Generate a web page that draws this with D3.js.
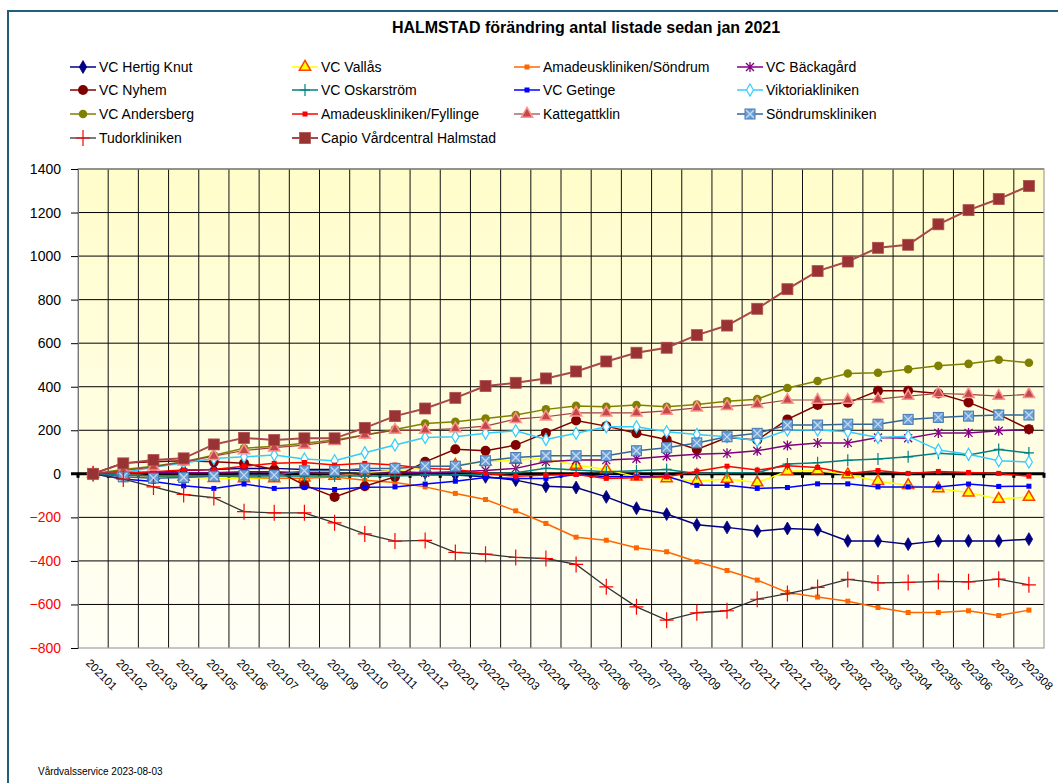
<!DOCTYPE html>
<html><head><meta charset="utf-8">
<script src="https://cdn.jsdelivr.net/npm/d3@7"></script>
<style>
body{margin:0;background:#fff}
svg{display:block}
text{font-family:"Liberation Sans",Arial,sans-serif}
</style>
</head><body>
<svg id="c" width="1058" height="783"></svg>
<script>
const categories = ["202101","202102","202103","202104","202105","202106","202107","202108","202109","202110","202111","202112",
"202201","202202","202203","202204","202205","202206","202207","202208","202209","202210","202211","202212",
"202301","202302","202303","202304","202305","202306","202307","202308"];
const yTicks = [-800,-600,-400,-200,0,200,400,600,800,1000,1200,1400];

const seriesNames = ["VC Hertig Knut","VC Vallås","Amadeuskliniken/Söndrum","VC Bäckagård",
"VC Nyhem","VC Oskarström","VC Getinge","Viktoriakliniken",
"VC Andersberg","Amadeuskliniken/Fyllinge","Kattegattklin","Söndrumskliniken",
"Tudorkliniken","Capio Vårdcentral Halmstad"];

const hertigKnut = [0,-5,5,15,20,25,25,20,20,15,10,5,-5,-14,-29,-57,-63,-106,-158,-185,-234,-246,-263,-251,-257,-308,-308,-323,-308,-308,-308,-300];
const vallas = [0,-5,-10,-15,-20,-21,-21,-18,-10,5,15,25,40,55,63,70,40,20,-14,-21,-34,-24,-40,12,15,-3,-34,-52,-67,-87,-116,-107];
const amadeusSondrum = [0,-5,-10,-8,-10,-15,-20,-20,-15,-30,-40,-60,-90,-118,-170,-228,-291,-305,-340,-358,-404,-444,-488,-545,-566,-585,-614,-637,-637,-629,-651,-626];
const backagard = [0,0,5,5,5,10,10,5,0,0,5,5,10,15,25,55,63,63,69,81,90,94,106,130,142,142,167,163,188,188,198,204];
const nyhem = [0,50,55,60,55,48,20,-52,-106,-57,-14,55,113,106,132,188,245,219,186,158,112,167,155,250,316,326,381,381,369,328,273,205];
const oskarstrom = [0,-5,-10,-10,-10,-10,-10,-10,-10,-10,-10,-5,-5,0,5,25,17,9,14,20,2,5,5,45,51,62,68,78,94,86,112,96];
const getinge = [0,-24,-35,-55,-67,-47,-67,-62,-72,-62,-60,-47,-34,-17,-21,-21,-3,-14,-14,-11,-53,-53,-67,-63,-46,-46,-60,-60,-60,-47,-58,-57];
const viktoria = [0,5,30,50,70,78,86,68,60,97,132,167,170,186,198,158,186,216,216,193,181,170,152,201,201,193,167,173,109,90,60,54];
const andersberg = [0,20,35,55,85,117,127,140,155,178,204,231,239,254,270,296,312,308,316,308,318,333,343,394,426,461,464,480,496,505,524,510];
const amadeusFyllinge = [0,5,10,17,20,35,48,52,40,48,40,25,20,2,-11,-6,-3,-21,-18,-14,12,35,17,37,29,2,15,2,11,6,2,-11];
const kattegatt = [0,15,32,55,81,107,120,132,150,178,201,201,208,219,251,262,280,280,280,289,303,310,319,339,339,339,343,357,369,365,357,365];
const sondrums = [0,-14,-20,-17,-11,-6,-6,14,14,25,25,35,35,60,75,83,83,83,106,120,142,170,186,224,224,228,228,250,259,265,270,270];
const tudor = [0,-24,-60,-95,-109,-174,-179,-179,-225,-276,-309,-306,-361,-369,-384,-389,-416,-519,-611,-672,-638,-629,-576,-550,-522,-485,-501,-499,-494,-496,-484,-510];
const capio = [0,48,63,71,135,165,155,163,163,211,265,300,349,403,418,438,470,516,556,579,637,681,758,848,931,975,1038,1052,1146,1211,1262,1322];

const seriesValues = [hertigKnut,vallas,amadeusSondrum,backagard,nyhem,oskarstrom,getinge,viktoria,andersberg,amadeusFyllinge,kattegatt,sondrums,tudor,capio];

const styles = [
  {line:"#000080", w:1.5, m:"diamond", fill:"#000080", stroke:"#000080"},
  {line:"#FFFF00", w:1.5, m:"triangle", fill:"#FFFF00", stroke:"#FF4000"},
  {line:"#FF6600", w:1.5, m:"smallsq", fill:"#FF6600", stroke:"#FF6600"},
  {line:"#800080", w:1.5, m:"asterisk", fill:"none", stroke:"#800080"},
  {line:"#800000", w:1.5, m:"circle", fill:"#800000", stroke:"#800000"},
  {line:"#008080", w:1.5, m:"plus", fill:"none", stroke:"#008080"},
  {line:"#0000FF", w:1.5, m:"smallsq", fill:"#0000FF", stroke:"#0000FF"},
  {line:"#33CCFF", w:1.5, m:"odiamond", fill:"#FFFFFF", stroke:"#33CCFF"},
  {line:"#808000", w:1.5, m:"circleS", fill:"#808000", stroke:"#808000"},
  {line:"#FF0000", w:1.5, m:"smallsq", fill:"#FF0000", stroke:"#FF0000"},
  {line:"#A0403F", w:1.2, m:"triangle", fill:"#C04848", stroke:"#FF9090"},
  {line:"#336699", w:1.5, m:"xsquare", fill:"#6A9ED6", stroke:"#4A7AB0"},
  {line:"#333333", w:1.3, m:"bigplus", fill:"none", stroke:"#FF0000"},
  {line:"#A84848", w:2, m:"bigsq", fill:"#993333", stroke:"#B05050"}
];

const svg = d3.select("#c");
const L = 78, R = 1044, T = 169, B = 648;

// outer frame
svg.append("rect").attr("x",8).attr("y",11).attr("width",1100).attr("height",800)
  .attr("fill","#fff").attr("stroke","#1F5F7A").attr("stroke-width",2);

// background gradient
const defs = svg.append("defs");
const grad = defs.append("linearGradient").attr("id","bg").attr("x1",0).attr("y1",0).attr("x2",0).attr("y2",1);
grad.append("stop").attr("offset","0%").attr("stop-color","#FFFDCA");
grad.append("stop").attr("offset","100%").attr("stop-color","#FFFFF6");

const x = d3.scaleBand().domain(categories).range([L,R]).padding(0);
const y = d3.scaleLinear().domain([-800,1400]).range([B,T]);
const cx = c => x(c) + x.bandwidth()/2;

svg.append("rect").attr("x",L).attr("y",T).attr("width",R-L).attr("height",B-T).attr("fill","url(#bg)");

// horizontal grid lines
svg.append("g").selectAll("line").data(yTicks.filter(v=>v!==-800 && v!==0)).join("line")
  .attr("x1",L).attr("x2",R).attr("y1",d=>y(d)).attr("y2",d=>y(d))
  .attr("stroke","#000").attr("stroke-width",1);
// vertical grid lines
svg.append("g").selectAll("line").data(categories.slice(1)).join("line")
  .attr("x1",d=>x(d)).attr("x2",d=>x(d)).attr("y1",T).attr("y2",B)
  .attr("stroke","#111").attr("stroke-width",1);

// plot border
svg.append("rect").attr("x",L).attr("y",T).attr("width",R-L).attr("height",B-T)
  .attr("fill","none").attr("stroke","#A0A0A0").attr("stroke-width",1.2);

// y axis
const yAxis = d3.axisLeft(y).tickValues(yTicks).tickSize(7).tickPadding(10).tickFormat(d3.format("d"));
const yg = svg.append("g").attr("transform",`translate(${L},0)`).call(yAxis);
yg.select(".domain").attr("stroke","#777");
yg.selectAll(".tick line").attr("stroke","#000");
yg.selectAll(".tick text").attr("font-size",14).attr("font-family","Liberation Sans, Arial, sans-serif")
  .attr("fill",d=>d<0?"#FF0000":"#000");

// x axis labels at bottom
const xAxis = d3.axisBottom(x).tickSize(0).tickPadding(0);
const xg = svg.append("g").attr("transform",`translate(0,${B})`).call(xAxis);
xg.select(".domain").remove();
xg.selectAll(".tick text").attr("font-size",11.5).attr("font-family","Liberation Sans, Arial, sans-serif")
  .attr("fill","#000").attr("x",0).attr("y",0).attr("dy","0.35em")
  .attr("transform","translate(-5,13) rotate(45)").style("text-anchor","start");

// zero axis
svg.append("line").attr("x1",L-7).attr("x2",R).attr("y1",y(0)).attr("y2",y(0))
  .attr("stroke","#000").attr("stroke-width",3);
svg.append("g").selectAll("line").data(categories.concat(["end"])).join("line")
  .attr("x1",d=>d==="end"?R:x(d)).attr("x2",d=>d==="end"?R:x(d))
  .attr("y1",y(0)-1).attr("y2",y(0)+4).attr("stroke","#000").attr("stroke-width",3);

function drawMarker(g, type, st){
  switch(type){
    case "diamond":
      g.append("path").attr("d",d3.symbol(d3.symbolDiamond,48)()).attr("fill",st.fill).attr("stroke",st.stroke).attr("stroke-width",0.8); break;
    case "odiamond":
      g.append("path").attr("d",d3.symbol(d3.symbolDiamond,42)()).attr("fill",st.fill).attr("stroke",st.stroke).attr("stroke-width",1.2); break;
    case "triangle":
      g.append("path").attr("d",d3.symbol(d3.symbolTriangle,55)()).attr("fill",st.fill).attr("stroke",st.stroke).attr("stroke-width",1.5); break;
    case "smallsq":
      g.append("rect").attr("x",-2.5).attr("y",-2.5).attr("width",5).attr("height",5).attr("fill",st.fill); break;
    case "circle":
      g.append("circle").attr("r",5).attr("fill",st.fill); break;
    case "circleS":
      g.append("circle").attr("r",4.3).attr("fill",st.fill); break;
    case "asterisk":
      g.append("path").attr("d","M-4,-4L4,4M-4,4L4,-4M0,-5L0,5").attr("stroke",st.stroke).attr("stroke-width",1.3).attr("fill","none"); break;
    case "plus":
      g.append("path").attr("d","M-5,0L5,0M0,-6L0,6").attr("stroke",st.stroke).attr("stroke-width",1.2).attr("fill","none"); break;
    case "bigplus":
      g.append("path").attr("d","M-7,0L7,0M0,-8L0,8").attr("stroke",st.stroke).attr("stroke-width",1.2).attr("fill","none"); break;
    case "xsquare":
      g.append("rect").attr("x",-5).attr("y",-5).attr("width",10).attr("height",10).attr("fill",st.fill).attr("stroke",st.stroke).attr("stroke-width",1);
      g.append("path").attr("d","M-4,-4L4,4M-4,4L4,-4").attr("stroke","#C8DCF0").attr("stroke-width",1.2); break;
    case "bigsq":
      g.append("rect").attr("x",-5.5).attr("y",-5.5).attr("width",11).attr("height",11).attr("fill",st.fill).attr("stroke",st.stroke).attr("stroke-width",0.8); break;
  }
}

const line = d3.line().x((d,i)=>cx(categories[i])).y(d=>y(d));
const sg = svg.append("g");
seriesValues.forEach((vals,si)=>{
  const st = styles[si];
  const g = sg.append("g");
  g.append("path").datum(vals).attr("d",line).attr("fill","none").attr("stroke",st.line).attr("stroke-width",st.w);
  vals.forEach((v,i)=>{
    const mg = g.append("g").attr("transform",`translate(${cx(categories[i])},${y(v)})`);
    drawMarker(mg, st.m, st);
  });
});

// title
svg.append("text").attr("x",586).attr("y",33).attr("text-anchor","middle")
  .attr("font-size",16).attr("font-weight","bold").text("HALMSTAD förändring antal listade sedan jan 2021");

// legend
const colX = [70, 292, 514, 737];
const rowY = [67, 90, 114, 138];
seriesNames.forEach((name,i)=>{
  const col = i%4, row = Math.floor(i/4);
  const st = styles[i];
  const g = svg.append("g").attr("transform",`translate(${colX[col]},${rowY[row]})`);
  g.append("line").attr("x1",0).attr("x2",26).attr("y1",0).attr("y2",0).attr("stroke",st.line).attr("stroke-width",st.w);
  drawMarker(g.append("g").attr("transform","translate(13,0)"), st.m, st);
  g.append("text").attr("x",29).attr("y",5).attr("font-size",14).text(name);
});

// footer
svg.append("text").attr("x",38).attr("y",775).attr("font-size",10).text("Vårdvalsservice 2023-08-03");
</script>
</body></html>
